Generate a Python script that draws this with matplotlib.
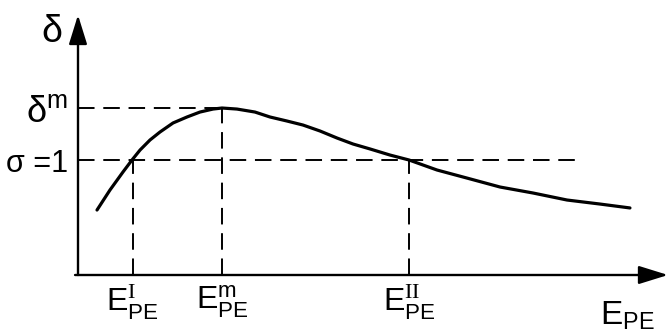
import matplotlib
matplotlib.use("Agg")
import matplotlib.pyplot as plt

# ---- data (arbitrary units, read from the schematic) ----
energy = [0.132, 0.222, 0.3125, 0.375, 0.431, 0.5, 0.569, 0.660, 0.757, 0.847,
          0.9375, 1.0, 1.104, 1.229, 1.333, 1.451, 1.5625, 1.681, 1.799, 1.910,
          2.028, 2.167, 2.299, 2.493, 2.701, 2.931, 3.160, 3.396, 3.625, 3.833]
yield_ = [0.565, 0.739, 0.896, 1.0, 1.087, 1.174, 1.243, 1.322, 1.374, 1.417,
          1.443, 1.452, 1.443, 1.417, 1.374, 1.339, 1.304, 1.252, 1.191, 1.139,
          1.096, 1.043, 1.0, 0.913, 0.843, 0.765, 0.713, 0.652, 0.617, 0.583]

E_I = 0.38
E_m = 1.0
E_II = 2.30
delta_m = 1.452
sigma_one = 1.0
sigma_line_end = 3.486

xtick_vals = [E_I, E_m, E_II]
xtick_labels = [r'$E_{PE}^{\mathrm{I}}$', r'$E_{PE}^{m}$', r'$E_{PE}^{\mathrm{II}}$']
ytick_vals = [sigma_one, delta_m]
ytick_labels = ['σ =1', r'$\delta^{m}$']

main = 'Liberation Sans'
plt.rcParams['font.family'] = [main, 'DejaVu Sans']
plt.rcParams['mathtext.fontset'] = 'custom'
plt.rcParams['mathtext.rm'] = 'Liberation Serif'
plt.rcParams['mathtext.it'] = main
plt.rcParams['mathtext.default'] = 'regular'

fig = plt.figure(figsize=(6.7, 3.33), dpi=100)
ax = fig.add_axes([78/670, (333-275)/333, 590/670, 260/333])
ax.set_xlim(0, 590/144)
ax.set_ylim(0, 260/115)

for s in ax.spines.values():
    s.set_visible(False)

# axes with arrows
arrow_kw = dict(arrowstyle='-|>,head_length=0.9,head_width=0.28', lw=1.7,
                color='black', mutation_scale=20, shrinkA=0, shrinkB=0)
ax.annotate('', xy=(1, 0), xytext=(-0.005, 0), xycoords='axes fraction',
            arrowprops=arrow_kw, annotation_clip=False)
ax.annotate('', xy=(0, 1), xytext=(0, 0), xycoords='axes fraction',
            arrowprops=arrow_kw, annotation_clip=False)

dash = (0, (8.5, 4.5))
dlw = 1.4
ax.plot([0, E_m], [delta_m, delta_m], color='black', lw=dlw, ls=dash)
ax.plot([0, sigma_line_end], [sigma_one, sigma_one], color='black', lw=dlw, ls=dash)
ax.plot([E_I, E_I], [0, sigma_one], color='black', lw=dlw, ls=dash)
ax.plot([E_m, E_m], [0, delta_m], color='black', lw=dlw, ls=dash)
ax.plot([E_II, E_II], [0, sigma_one], color='black', lw=dlw, ls=dash)

ax.plot(energy, yield_, color='black', lw=2.3, solid_capstyle='round',
        solid_joinstyle='round')

ax.set_xticks(xtick_vals)
ax.set_xticklabels(xtick_labels, fontsize=23)
ax.set_yticks(ytick_vals)
ax.set_yticklabels(ytick_labels, fontsize=22)
ax.get_yticklabels()[1].set_fontsize(26)
ax.tick_params(axis='x', length=0, pad=6)
ax.tick_params(axis='y', length=0, pad=7)

ax.text(-0.044, 0.935, 'δ', transform=ax.transAxes, fontsize=27,
        ha='center', va='center')
ax.text(0.885, -0.192, r'$E_{PE}$', transform=ax.transAxes, fontsize=24,
        ha='left', va='baseline')

fig.savefig('out.png', dpi=100)
